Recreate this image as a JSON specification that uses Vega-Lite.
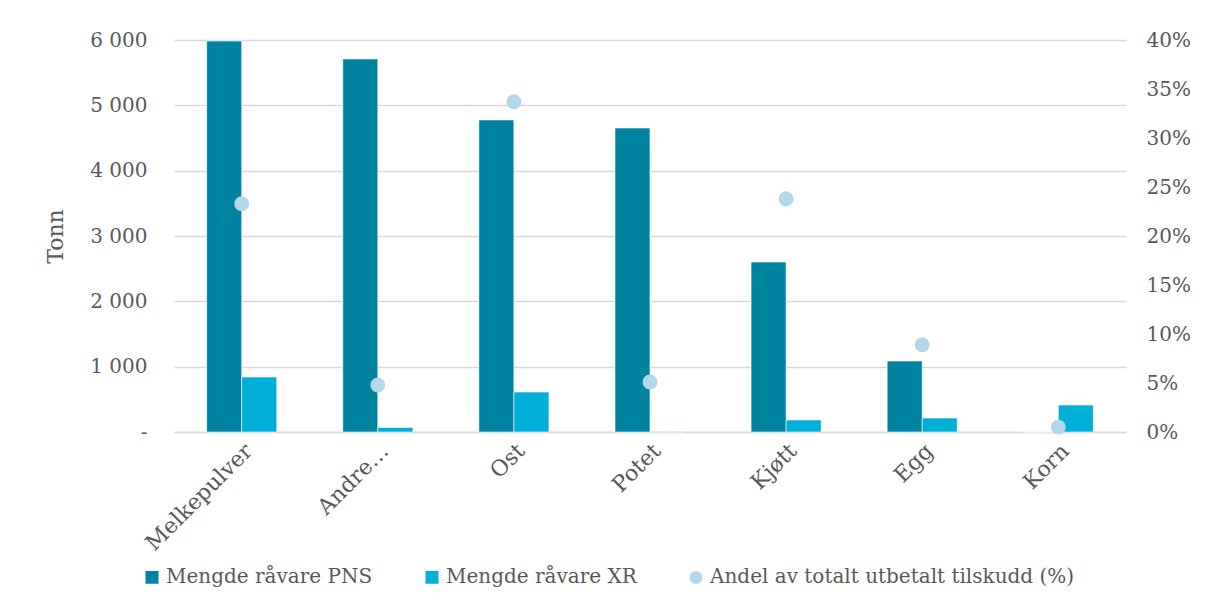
{
  "$schema": "https://vega.github.io/schema/vega-lite/v6.json",
  "width": 952,
  "height": 392,
  "autosize": {"type": "none"},
  "padding": {"left": 174, "top": 40, "right": 82, "bottom": 178},
  "background": "white",
  "config": {
    "font": "DejaVu Serif",
    "view": {"stroke": null},
    "axis": {"labelColor": "#595959", "titleColor": "#595959", "labelFont": "DejaVu Serif", "titleFont": "DejaVu Serif"},
    "legend": {"labelFont": "DejaVu Serif", "labelColor": "#595959"}
  },
  "datasets": {
    "bars": [
      {"kategori": "Melkepulver", "serie": "Mengde råvare PNS", "verdi": 5985},
      {"kategori": "Melkepulver", "serie": "Mengde råvare XR", "verdi": 842},
      {"kategori": "Andre…", "serie": "Mengde råvare PNS", "verdi": 5710},
      {"kategori": "Andre…", "serie": "Mengde råvare XR", "verdi": 70},
      {"kategori": "Ost", "serie": "Mengde råvare PNS", "verdi": 4776},
      {"kategori": "Ost", "serie": "Mengde råvare XR", "verdi": 612},
      {"kategori": "Potet", "serie": "Mengde råvare PNS", "verdi": 4653},
      {"kategori": "Potet", "serie": "Mengde råvare XR", "verdi": 8},
      {"kategori": "Kjøtt", "serie": "Mengde råvare PNS", "verdi": 2602},
      {"kategori": "Kjøtt", "serie": "Mengde råvare XR", "verdi": 184},
      {"kategori": "Egg", "serie": "Mengde råvare PNS", "verdi": 1087},
      {"kategori": "Egg", "serie": "Mengde råvare XR", "verdi": 214},
      {"kategori": "Korn", "serie": "Mengde råvare PNS", "verdi": 0},
      {"kategori": "Korn", "serie": "Mengde råvare XR", "verdi": 413}
    ],
    "andel": [
      {"kategori": "Melkepulver", "serie": "Andel av totalt utbetalt tilskudd  (%)", "andel": 0.233},
      {"kategori": "Andre…", "serie": "Andel av totalt utbetalt tilskudd  (%)", "andel": 0.048},
      {"kategori": "Ost", "serie": "Andel av totalt utbetalt tilskudd  (%)", "andel": 0.337},
      {"kategori": "Potet", "serie": "Andel av totalt utbetalt tilskudd  (%)", "andel": 0.051},
      {"kategori": "Kjøtt", "serie": "Andel av totalt utbetalt tilskudd  (%)", "andel": 0.238},
      {"kategori": "Egg", "serie": "Andel av totalt utbetalt tilskudd  (%)", "andel": 0.089},
      {"kategori": "Korn", "serie": "Andel av totalt utbetalt tilskudd  (%)", "andel": 0.005}
    ]
  },
  "encoding": {
    "x": {
      "field": "kategori",
      "type": "nominal",
      "sort": ["Melkepulver", "Andre…", "Ost", "Potet", "Kjøtt", "Egg", "Korn"],
      "scale": {"paddingInner": 0.485, "paddingOuter": 0.24},
      "axis": {
        "title": null,
        "labelAngle": -45,
        "labelFontSize": 22,
        "labelPadding": 8,
        "ticks": false,
        "domainColor": "#d9d9d9",
        "domainWidth": 1.5
      }
    }
  },
  "layer": [
    {
      "data": {"name": "bars"},
      "mark": {"type": "bar", "stroke": "white", "strokeWidth": 0.6},
      "encoding": {
        "xOffset": {"field": "serie", "type": "nominal", "scale": {"domain": ["Mengde råvare PNS", "Mengde råvare XR"]}},
        "y": {
          "field": "verdi",
          "type": "quantitative",
          "scale": {"domain": [0, 6000]},
          "axis": {
            "title": "Tonn",
            "titleFontSize": 22,
            "titleFontWeight": "normal",
            "titlePadding": 22,
            "labelFontSize": 20,
            "labelPadding": 27,
            "values": [0, 1000, 2000, 3000, 4000, 5000, 6000],
            "labelExpr": "datum.value === 0 ? '-' : replace(format(datum.value, ','), ',', ' ')",
            "ticks": false,
            "domain": false,
            "grid": true,
            "gridColor": "#d9d9d9",
            "gridWidth": 1.5
          }
        },
        "color": {
          "field": "serie",
          "type": "nominal",
          "scale": {
            "domain": ["Mengde råvare PNS", "Mengde råvare XR", "Andel av totalt utbetalt tilskudd  (%)"],
            "range": ["#0083a0", "#00b0d8", "#b4d8ea"]
          },
          "legend": {
            "title": null,
            "orient": "none",
            "legendX": -32,
            "legendY": 527,
            "direction": "horizontal",
            "labelFontSize": 20,
            "symbolSize": 210,
            "columnPadding": 48,
            "labelLimit": 500
          }
        }
      }
    },
    {
      "data": {"name": "andel"},
      "mark": {"type": "point", "filled": true, "size": 220, "opacity": 1},
      "encoding": {
        "y": {
          "field": "andel",
          "type": "quantitative",
          "scale": {"domain": [0, 0.4]},
          "axis": {
            "orient": "right",
            "title": null,
            "format": ".0%",
            "values": [0, 0.05, 0.1, 0.15, 0.2, 0.25, 0.3, 0.35, 0.4],
            "labelFontSize": 20,
            "labelPadding": 20,
            "ticks": false,
            "domain": false,
            "grid": false
          }
        },
        "color": {"field": "serie", "type": "nominal"},
        "shape": {
          "field": "serie",
          "type": "nominal",
          "scale": {
            "domain": ["Mengde råvare PNS", "Mengde råvare XR", "Andel av totalt utbetalt tilskudd  (%)"],
            "range": ["square", "square", "circle"]
          },
          "legend": {
            "title": null,
            "orient": "none",
            "legendX": -32,
            "legendY": 527,
            "direction": "horizontal",
            "labelFontSize": 20,
            "symbolSize": 210,
            "columnPadding": 48,
            "labelLimit": 500
          }
        }
      }
    }
  ],
  "resolve": {"scale": {"y": "independent"}}
}
